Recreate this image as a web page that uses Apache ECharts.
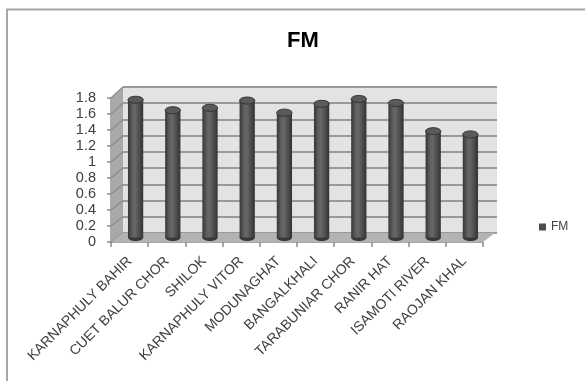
<!DOCTYPE html>
<html><head><meta charset="utf-8">
<script src="https://cdn.jsdelivr.net/npm/echarts@6/dist/echarts.min.js"></script>
<style>html,body{margin:0;padding:0;background:#fff}#c{width:585px;height:381px}</style>
</head><body><div id="c"></div>
<script>
const categories = ['KARNAPHULY BAHIR','CUET BALUR CHOR','SHILOK','KARNAPHULY VITOR','MODUNAGHAT','BANGALKHALI','TARABUNIAR CHOR','RANIR HAT','ISAMOTI RIVER','RAOJAN KHAL'];
const fmValues = [1.71, 1.58, 1.61, 1.70, 1.55, 1.66, 1.72, 1.67, 1.32, 1.28];
const seriesName = 'FM';
const yMin = 0, yMax = 1.8, yStep = 0.2;

// layout (front plane, back wall, middle plane where the cylinders stand)
const F = {left: 111, top: 98, w: 372, h: 144};
const B = {left: 123, top: 87, w: 374, h: 146};
const M = {left: 117, top: 92.5, w: 372, h: 145};
const font = 'Liberation Sans';

const chart = echarts.init(document.getElementById('c'), null, {renderer: 'canvas'});

function gridOf(g, extra) {
  return Object.assign({left: g.left, top: g.top, width: g.w, height: g.h, containLabel: false}, extra || {});
}

// decorations: side wall, floor, side-wall grid diagonals, chart border
const deco = [];
deco.push({type: 'rect', shape: {x: 7, y: 9.5, width: 600, height: 400}, style: {fill: 'none', stroke: '#a6a6a6', lineWidth: 2}, z: 0});
deco.push({type: 'polygon', z: 1, shape: {points: [[F.left, F.top + F.h], [F.left, F.top], [B.left, B.top], [B.left, B.top + B.h]]}, style: {fill: '#a9a9a9'}});
for (let t = yMin; t <= yMax + 1e-9; t += yStep) {
  const fy = F.top + F.h - (t - yMin) / (yMax - yMin) * F.h;
  const by = B.top + B.h - (t - yMin) / (yMax - yMin) * B.h;
  deco.push({type: 'line', z: 1, shape: {x1: F.left, y1: fy, x2: B.left, y2: by}, style: {stroke: '#8e8e8e', lineWidth: 1.5}});
}
deco.push({type: 'polygon', z: 1, shape: {points: [[F.left, F.top + F.h], [F.left + F.w, F.top + F.h], [B.left + B.w - 2, B.top + B.h], [B.left, B.top + B.h]]}, style: {fill: '#b3b3b3'}});

const option = {
  backgroundColor: '#fff',
  animation: false,
  title: {text: 'FM', left: 282, top: 25, textStyle: {fontFamily: font, fontSize: 22, fontWeight: 'bold', color: '#000'}},
  legend: {data: [seriesName], left: 539, top: 221, icon: 'rect', itemWidth: 7, itemHeight: 7, itemGap: 4, padding: 0,
           textStyle: {fontFamily: font, fontSize: 12, color: '#404040'}},
  grid: [
    gridOf(F),
    gridOf(B, {show: true, backgroundColor: '#e3e3e3', borderWidth: 0}),
    gridOf(M)
  ],
  xAxis: [
    {type: 'category', gridIndex: 0, data: categories, boundaryGap: true,
     axisLine: {show: true, lineStyle: {color: '#8c8c8c', width: 1.5}},
     axisTick: {show: true, length: 5, alignWithLabel: false, lineStyle: {color: '#8c8c8c', width: 1.5}},
     axisLabel: {rotate: 45, margin: 17, interval: 0, fontFamily: font, fontSize: 14, color: '#404040'},
     splitLine: {show: false}},
    {type: 'category', gridIndex: 1, data: categories, show: false},
    {type: 'category', gridIndex: 2, data: categories, show: false}
  ],
  yAxis: [
    {type: 'value', gridIndex: 0, min: yMin, max: yMax, interval: yStep,
     axisLine: {show: true, lineStyle: {color: '#8c8c8c', width: 1.5}},
     axisTick: {show: true, length: 4, lineStyle: {color: '#8c8c8c', width: 1.5}},
     axisLabel: {margin: 15, fontFamily: font, fontSize: 14.5, color: '#404040',
                 formatter: v => String(Math.round(v * 10) / 10)},
     splitLine: {show: false}},
    {type: 'value', gridIndex: 1, min: yMin, max: yMax, interval: yStep,
     axisLine: {show: false}, axisTick: {show: false}, axisLabel: {show: false},
     splitLine: {show: true, lineStyle: {color: '#9a9a9a', width: 2}}},
    {type: 'value', gridIndex: 2, min: yMin, max: yMax, show: false}
  ],
  graphic: deco,
  series: [{
    name: seriesName,
    type: 'custom',
    xAxisIndex: 2, yAxisIndex: 2,
    z: 5,
    itemStyle: {color: '#4d4d4d'},
    data: fmValues.map((v, i) => [i, v]),
    encode: {x: 0, y: 1},
    renderItem: function (params, api) {
      const i = api.value(0), v = api.value(1);
      const top = api.coord([i, v]);
      const base = api.coord([i, 0]);
      const bw = api.size([1, 0])[0] * 0.41;
      const rx = bw / 2, ry = 3.5;
      const grad = new echarts.graphic.LinearGradient(0, 0, 1, 0, [
        {offset: 0, color: '#363636'},
        {offset: 0.3, color: '#606060'},
        {offset: 0.45, color: '#686868'},
        {offset: 0.75, color: '#4c4c4c'},
        {offset: 1, color: '#323232'}
      ]);
      return {type: 'group', children: [
        {type: 'ellipse', shape: {cx: base[0], cy: base[1], rx: rx, ry: ry}, style: {fill: '#383838'}},
        {type: 'rect', shape: {x: top[0] - rx, y: top[1], width: bw, height: base[1] - top[1]}, style: {fill: grad}},
        {type: 'ellipse', shape: {cx: top[0], cy: top[1], rx: rx, ry: ry}, style: {fill: '#5a5a5a', stroke: '#333', lineWidth: 1}}
      ]};
    }
  }]
};
chart.setOption(option);
</script></body></html>
